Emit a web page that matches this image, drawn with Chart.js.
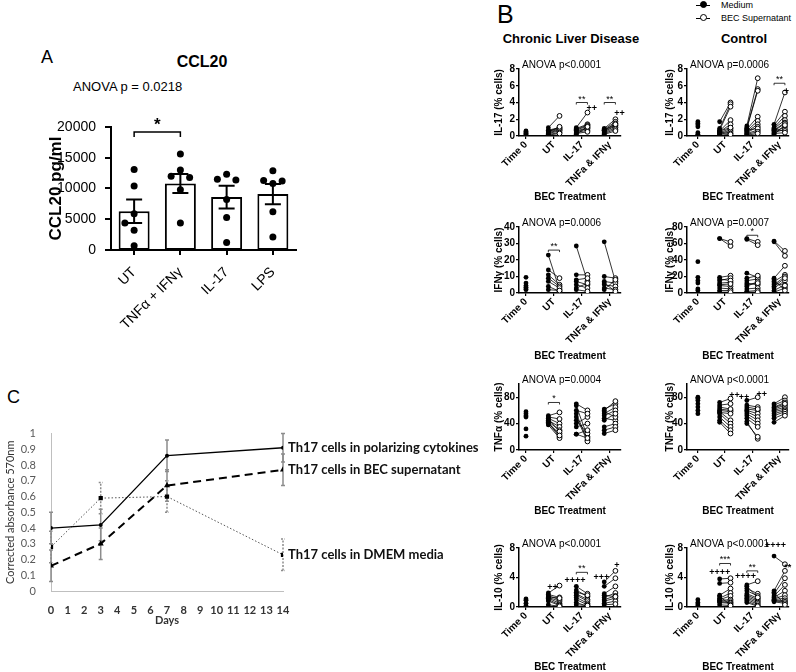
<!DOCTYPE html>
<html>
<head>
<meta charset="utf-8">
<script src="https://cdn.jsdelivr.net/npm/chart.js@4.4.1/dist/chart.umd.min.js"></script>
<style>
  body { margin: 0; background: #fff; width: 796px; height: 672px; position: relative; overflow: hidden;
         font-family: "Liberation Sans", Arial, sans-serif; }
  .t { position: absolute; line-height: 1; white-space: nowrap; color: #000; }
  .c { transform: translateX(-50%); }
  canvas { position: absolute; }
  .sym { position: absolute; height: 1px; background: #000; width: 14px; left: 696px; }
  .dot { position: absolute; width: 5px; height: 5px; border-radius: 50%; border: 1px solid #000; left: 700px; }
  .ax { position: absolute; background: #000; z-index: 5; }
</style>
</head>
<body>
<div class="t" style="left:41px;top:48px;font-size:18px">A</div>
<div class="t c" style="left:202px;top:54px;font-size:16px;font-weight:bold">CCL20</div>
<div class="t" style="left:73px;top:80px;font-size:13px">ANOVA p = 0.0218</div>

<div class="t" style="left:497px;top:2px;font-size:25px">B</div>
<div class="t c" style="left:571px;top:32px;font-size:13px;font-weight:bold">Chronic Liver Disease</div>
<div class="t c" style="left:744px;top:32px;font-size:13px;font-weight:bold">Control</div>
<div class="sym" style="top:5px"></div><div class="dot" style="top:1px;background:#000"></div>
<div class="t" style="left:721px;top:1px;font-size:9px">Medium</div>
<div class="sym" style="top:18px"></div><div class="dot" style="top:14px;background:#fff"></div>
<div class="t" style="left:721px;top:14px;font-size:9px">BEC Supernatant</div>

<div class="t" style="left:7px;top:388px;font-size:18px">C</div>

<canvas id="cA" width="266" height="230" style="left:40px;top:100px"></canvas>
<canvas id="cA2" width="266" height="230" style="left:40px;top:100px"></canvas>
<canvas id="cC" width="510" height="207" style="left:0px;top:420px"></canvas>

<!-- panel A axis frame -->
<div class="ax" style="left:110px;top:126px;width:2px;height:125px"></div>
<div class="ax" style="left:110px;top:249px;width:187px;height:2px"></div>
<div class="ax" style="left:105px;top:126px;width:5px;height:2px"></div>
<div class="ax" style="left:105px;top:157px;width:5px;height:2px"></div>
<div class="ax" style="left:105px;top:187px;width:5px;height:2px"></div>
<div class="ax" style="left:105px;top:218px;width:5px;height:2px"></div>
<div class="ax" style="left:105px;top:249px;width:5px;height:2px"></div>
<div class="ax" style="left:133px;top:251px;width:2px;height:4px"></div>
<div class="ax" style="left:179px;top:251px;width:2px;height:4px"></div>
<div class="ax" style="left:226px;top:251px;width:2px;height:4px"></div>
<div class="ax" style="left:272px;top:251px;width:2px;height:4px"></div>

<script>
// PANEL A - CCL20
const aCats = ['UT', 'TNFα + IFNγ', 'IL-17', 'LPS'];
const aMean = [6300, 10800, 8600, 9100];
const aSem = [1900, 1550, 1850, 1650];
const aUT = [13100, 10400, 5900, 4400, 3200, 700];
const aTNF = [15600, 13000, 12000, 11800, 9800, 4400];
const aIL17 = [12300, 11500, 11400, 8200, 5300, 1200];
const aLPS = [12900, 11300, 11200, 10800, 6200, 2100];
const aTicks = [0, 5000, 10000, 15000, 20000];

// PANEL B - paired data, groups: UT, IL-17, TNFa & IFNy
const bCats = ['Time 0', 'UT', 'IL-17', 'TNFa & IFNγ'];

const cldIL17T0 = [0.6, 0.5, 0.4, 0.3, 0.2];
const cldIL17Med = [[1.0, 0.7, 0.6, 0.5, 0.4, 0.3, 0.2, 0.1, 0.5], [1.0, 0.9, 0.8, 0.7, 0.6, 0.5, 0.4, 0.3, 0.2], [0.9, 0.8, 0.7, 0.6, 0.5, 0.4, 0.3, 0.2, 0.7]];
const cldIL17Bec = [[2.4, 1.0, 0.9, 0.8, 0.7, 0.6, 0.4, 0.3, 1.1], [2.8, 1.4, 1.3, 1.2, 1.0, 0.9, 0.7, 0.5, 1.1], [2.0, 1.7, 1.5, 1.3, 1.2, 1.0, 0.8, 0.6, 1.4]];

const ctlIL17T0 = [1.7, 1.5, 1.3, 1.1, 0.4, 0.2, 0.1];
const ctlIL17Med = [[1.7, 0.9, 0.7, 0.6, 0.5, 0.4, 0.3, 0.2, 0.6, 0.4, 0.1], [1.2, 1.0, 0.9, 0.8, 0.6, 0.5, 0.4, 0.3, 0.7, 0.2, 0.1], [1.4, 1.3, 1.0, 0.9, 0.7, 0.6, 0.5, 0.4, 0.8, 0.3, 0.2]];
const ctlIL17Bec = [[4.0, 3.8, 3.5, 1.9, 1.4, 0.9, 0.7, 0.5, 1.0, 0.3, 0.2], [6.9, 5.6, 5.4, 2.3, 1.8, 1.4, 1.1, 0.7, 0.9, 0.5, 0.3], [5.2, 2.9, 2.4, 1.9, 1.6, 1.5, 1.1, 0.8, 0.6, 0.4, 1.3]];

const cldIFNT0 = [9.5, 6, 4.5, 3.5, 2.5, 2];
const cldIFNMed = [[23, 14, 11, 9, 7, 4, 2], [28.5, 11, 8, 7, 5, 3, 2], [31, 10, 7, 5, 3, 2, 6]];
const cldIFNBec = [[2, 9, 5, 4, 3, 1, 1.5], [7, 11, 9, 5, 3, 6, 1], [7, 9, 6, 4, 2, 8, 1]];

const ctlIFNT0 = [38, 19, 15, 12, 5, 3];
const ctlIFNMed = [[66, 66, 19, 15, 12, 9, 6, 3, 1, 17, 10], [66, 65, 24, 15, 12, 8, 5, 2, 1, 18, 10], [63, 62, 18, 14, 10, 6, 3, 1, 12, 16, 8]];
const ctlIFNBec = [[57, 62, 21, 18, 13, 8, 5, 3, 1, 15, 11], [62, 58, 19, 17, 10, 14, 6, 3, 1, 21, 12], [51, 45, 33, 22, 20, 15, 10, 6, 9, 3, 18]];

const cldTNFT0 = [58, 55, 52, 50, 32, 21];
const cldTNFMed = [[52, 50, 48, 45, 43, 40, 41, 38, 47, 42], [70, 67, 55, 50, 45, 40, 35, 24, 24, 60], [62, 60, 55, 52, 48, 35, 30, 25, 58, 45]];
const cldTNFBec = [[57, 47, 40, 35, 30, 25, 20, 18, 28, 22], [60, 20, 15, 13, 25, 50, 40, 30, 18, 55], [70, 74, 65, 60, 45, 40, 35, 30, 50, 55]];

const ctlTNFT0 = [80, 78, 75, 70, 65, 60, 55];
const ctlTNFMed = [[72, 68, 62, 60, 58, 55, 50, 45, 42, 65, 57], [75, 68, 62, 60, 58, 55, 52, 48, 43, 65, 40], [70, 68, 65, 62, 60, 58, 55, 52, 48, 42, 64]];
const ctlTNFBec = [[78, 70, 60, 58, 45, 40, 35, 30, 25, 62, 55], [80, 65, 60, 55, 50, 45, 40, 35, 17, 62, 20], [80, 75, 72, 68, 65, 62, 60, 58, 55, 52, 70]];

const cldIL10T0 = [1.1, 0.9, 0.5, 0.2];
const cldIL10Med = [[1.9, 1.7, 1.5, 1.3, 1.2, 1.0, 0.8, 0.3, 1.4], [2.8, 2.3, 1.8, 1.6, 1.3, 1.0, 0.6, 0.3, 2.0], [3.4, 2.8, 1.8, 1.3, 1.0, 0.8, 0.5, 0.3, 1.6]];
const cldIL10Bec = [[2.9, 1.3, 1.0, 0.8, 0.5, 0.3, 0.2, 0.1, 1.2], [1.8, 1.4, 1.0, 0.8, 0.5, 0.3, 0.1, 0.2, 1.6], [4.9, 3.9, 2.8, 1.9, 1.5, 1.2, 0.8, 0.4, 1.4]];

const ctlIL10T0 = [1.0, 0.6, 0.4, 0.2];
const ctlIL10Med = [[3.8, 3.2, 1.6, 1.2, 1.0, 0.9, 0.8, 0.7, 0.6, 1.4, 0.3], [3.0, 2.5, 2.2, 1.8, 1.6, 1.4, 1.2, 1.0, 0.8, 0.6, 2.8], [6.9, 2.2, 1.8, 1.5, 1.3, 1.1, 1.0, 0.9, 0.8, 0.7, 2.0]];
const ctlIL10Bec = [[3.9, 3.3, 2.5, 1.9, 1.5, 1.0, 0.8, 0.6, 0.5, 0.3, 0.2], [3.5, 1.8, 1.5, 1.2, 1.0, 0.8, 0.6, 0.4, 0.2, 0.1, 1.3], [5.8, 4.9, 3.9, 3.0, 2.2, 1.6, 1.2, 0.9, 0.7, 0.5, 0.3]];

// PANEL C - proliferation
const cDays = [0, 3, 7, 14];
const cNames = ['Th17 cells in polarizing cytokines', 'Th17 cells in BEC supernatant', 'Th17 cells in DMEM media'];
const cPolar = [0.40, 0.42, 0.86, 0.91];
const cPolarErr = [0.10, 0.10, 0.10, 0.09];
const cBec = [0.16, 0.30, 0.67, 0.77];
const cBecErr = [0.10, 0.10, 0.10, 0.10];
const cDmem = [0.28, 0.59, 0.60, 0.23];
const cDmemErr = [0.10, 0.10, 0.10, 0.10];


Chart.defaults.font.family = '"Liberation Sans", Arial, sans-serif';
Chart.defaults.color = '#000';
Chart.defaults.animation = false;
Chart.defaults.responsive = false;
Chart.defaults.plugins.legend.display = false;
Chart.defaults.plugins.tooltip.enabled = false;

// annotations (brackets, stars, plus signs) per canvas
const notes = {};

const notesPlugin = {
  id: 'notes',
  afterDatasetsDraw(chart) {
    const n = notes[chart.canvas.id];
    if (!n) return;
    const ctx = chart.ctx, xs = chart.scales.x, ys = chart.scales.y, a = chart.chartArea;
    ctx.save();
    ctx.fillStyle = '#000';
    ctx.strokeStyle = '#000';
    if (n.anova) {
      ctx.font = '10px "Liberation Sans", Arial, sans-serif';
      ctx.textAlign = 'left';
      ctx.textBaseline = 'alphabetic';
      ctx.fillText(n.anova, a.left + 3, a.top - 1);
    }
    (n.marks || []).forEach(m => {
      const y = ys.getPixelForValue(m.y);
      ctx.font = m.font;
      ctx.textAlign = 'center';
      if (m.x2 !== undefined) {
        const x1 = xs.getPixelForValue(m.x), x2 = xs.getPixelForValue(m.x2);
        ctx.lineWidth = m.lw;
        ctx.beginPath();
        ctx.moveTo(x1, y + m.tick); ctx.lineTo(x1, y); ctx.lineTo(x2, y); ctx.lineTo(x2, y + m.tick);
        ctx.stroke();
        ctx.textBaseline = 'alphabetic';
        ctx.fillText(m.text, (x1 + x2) / 2, y + m.dy);
      } else {
        ctx.textBaseline = 'middle';
        ctx.fillText(m.text, xs.getPixelForValue(m.x), y);
      }
    });
    ctx.restore();
  }
};

// ---------- A ----------
function swarm(vals, delta, step) {
  const offs = [];
  vals.forEach((v, i) => {
    const used = [];
    for (let j = 0; j < i; j++) if (Math.abs(vals[j] - v) < delta) used.push(offs[j]);
    const cand = [0, -step, step, -2 * step, 2 * step];
    offs.push(cand.find(c => !used.includes(c)));
  });
  return offs;
}

const aDots = [];
[aUT, aTNF, aIL17, aLPS].forEach((grp, g) => {
  const o = swarm(grp, 1800, 0.2);
  grp.forEach((v, k) => aDots.push({ x: g + o[k], y: v }));
});

new Chart(document.getElementById('cA'), {
  type: 'bar',
  data: {
    labels: aCats,
    datasets: [{ data: aMean, backgroundColor: '#fff', borderColor: '#000', borderWidth: 2, borderSkipped: false,
                 barPercentage: 0.67, categoryPercentage: 1 }]
  },
  options: {
    layout: { padding: { top: 27, right: 10, left: 0, bottom: 0 } },
    scales: {
      x: {
        grid: { display: false },
        border: { display: false },
        ticks: { font: { size: 14 }, minRotation: 45, maxRotation: 45, padding: 6 },
        afterFit: s => { s.height = 80; }
      },
      y: {
        min: 0, max: 20000,
        afterBuildTicks: s => { s.ticks = aTicks.map(v => ({ value: v })); },
        grid: { display: false },
        border: { display: false },
        ticks: { font: { size: 14 }, padding: 7, callback: v => String(v) },
        title: { display: true, text: 'CCL20 pg/ml', font: { size: 17, weight: 'bold' }, padding: { top: 6, bottom: 0 } },
        afterFit: s => { s.width = 71; }
      }
    }
  }
});

// SEM whiskers placed through the overlay's scales
const semPlugin = {
  id: 'sem',
  afterDatasetsDraw(chart) {
    const ctx = chart.ctx, xs = chart.scales.x, ys = chart.scales.y;
    ctx.save();
    ctx.strokeStyle = '#000';
    ctx.lineWidth = 2;
    aMean.forEach((m, i) => {
      const x = xs.getPixelForValue(i);
      const y1 = ys.getPixelForValue(m - aSem[i]), y2 = ys.getPixelForValue(m + aSem[i]);
      ctx.beginPath();
      ctx.moveTo(x, y1); ctx.lineTo(x, y2);
      ctx.moveTo(x - 8, y1); ctx.lineTo(x + 8, y1);
      ctx.moveTo(x - 8, y2); ctx.lineTo(x + 8, y2);
      ctx.stroke();
    });
    ctx.restore();
  }
};

notes.cA2 = {
  marks: [{ x: 0, x2: 1, y: 19200, tick: 5, lw: 1.5, dy: -2, text: '*', font: 'bold 17px "Liberation Sans", Arial, sans-serif' }]
};

// points layer, same plot area as the bar chart underneath
new Chart(document.getElementById('cA2'), {
  type: 'scatter',
  data: { datasets: [{ data: aDots, pointRadius: 3.5, pointBackgroundColor: '#000', pointBorderWidth: 0, clip: false }] },
  options: {
    layout: { padding: { top: 27, right: 10, left: 71, bottom: 80 } },
    scales: {
      x: { type: 'linear', display: false, min: -0.5, max: 3.5 },
      y: { type: 'linear', display: false, min: 0, max: 20000 }
    }
  },
  plugins: [semPlugin, notesPlugin]
});

// ---------- B ----------
const rows = [
  { top: 69, bottom: 136, title: 197 },
  { top: 227, bottom: 293, title: 356 },
  { top: 384, bottom: 450, title: 511 },
  { top: 548, bottom: 607, title: 667 }
];
const cols = [
  { axis: 519, right: 622, tx: 499, min: -0.25, max: 3.4 },
  { axis: 687, right: 790, tx: 670, min: -0.4, max: 3.35 }
];

const starFont = '9px "Liberation Sans", Arial, sans-serif';
const plusFont = 'bold 9px "Liberation Sans", Arial, sans-serif';
const br = (x, x2, y, text) => ({ x, x2, y, text, tick: 2, lw: 0.8, dy: -1, font: starFont });
const pl = (x, y, text) => ({ x, y, text, font: plusFont });

function pairChart(id, r, c, t0, med, bec, yMax, yStep, yTitle, anova, marks) {
  const row = rows[r], col = cols[c];
  const left = col.tx - 7, top = row.top - 14;
  const yw = col.axis - left;
  const xh = row.title - row.bottom + 6;
  const cv = document.createElement('canvas');
  cv.id = id;
  cv.width = col.right + 4 - left;
  cv.height = 14 + (row.bottom - row.top) + xh;
  cv.style.left = left + 'px';
  cv.style.top = top + 'px';
  document.body.appendChild(cv);
  notes[id] = { anova, marks };

  const medPts = t0.map(v => ({ x: 0, y: v }));
  const becPts = [], links = [];
  med.forEach((grp, g) => grp.forEach((v, k) => {
    const xm = g + 1 - 0.2, xb = g + 1 + 0.2;
    medPts.push({ x: xm, y: v });
    becPts.push({ x: xb, y: bec[g][k] });
    links.push({ x: xm, y: v }, { x: xb, y: bec[g][k] }, { x: xb, y: null });
  }));

  new Chart(cv, {
    type: 'scatter',
    data: {
      datasets: [
        { type: 'scatter', data: medPts, pointRadius: 2.4, pointBackgroundColor: '#000', pointBorderWidth: 0 },
        { type: 'scatter', data: becPts, pointRadius: 2.4, pointBackgroundColor: '#fff', pointBorderColor: '#000', pointBorderWidth: 1 },
        { type: 'line', data: links, borderColor: '#000', borderWidth: 0.8, pointRadius: 0, spanGaps: false }
      ]
    },
    options: {
      layout: { padding: { top: 14, right: 4, left: 0, bottom: 0 } },
      scales: {
        x: {
          type: 'linear', min: col.min, max: col.max,
          afterBuildTicks: s => { s.ticks = [0, 1, 2, 3].map(v => ({ value: v })); },
          grid: { drawOnChartArea: false, tickLength: 3, color: '#000', lineWidth: 1.2 },
          border: { color: '#000', width: 1.5 },
          ticks: { callback: v => bCats[v], font: { size: 10, weight: 'bold' }, minRotation: 45, maxRotation: 45, padding: 0, autoSkip: false },
          title: { display: true, text: 'BEC Treatment', font: { size: 10, weight: 'bold' }, padding: 0 },
          afterFit: s => { s.height = xh; }
        },
        y: {
          min: 0, max: yMax,
          ticks: { stepSize: yStep, font: { size: 10, weight: 'bold' }, padding: 1 },
          grid: { drawOnChartArea: false, tickLength: 3, color: '#000', lineWidth: 1.2 },
          border: { color: '#000', width: 1.5 },
          title: { display: true, text: yTitle, font: { size: 10, weight: 'bold' }, padding: { top: 1, bottom: 0 } },
          afterFit: s => { s.width = yw; }
        }
      }
    },
    plugins: [notesPlugin]
  });
}

pairChart('b11', 0, 0, cldIL17T0, cldIL17Med, cldIL17Bec, 8, 2, 'IL-17 (% cells)', 'ANOVA p<0.0001',
  [br(1.8, 2.2, 4.0, '**'), pl(2.35, 3.3, '++'), br(2.8, 3.2, 4.0, '**'), pl(3.35, 2.7, '++')]);
pairChart('b12', 0, 1, ctlIL17T0, ctlIL17Med, ctlIL17Bec, 8, 2, 'IL-17 (% cells)', 'ANOVA p=0.0006',
  [br(2.8, 3.2, 6.3, '**'), pl(3.25, 5.3, '+')]);
pairChart('b21', 1, 0, cldIFNT0, cldIFNMed, cldIFNBec, 40, 10, 'IFNγ (% cells)', 'ANOVA p=0.0006',
  [br(0.8, 1.2, 26, '**')]);
pairChart('b22', 1, 1, ctlIFNT0, ctlIFNMed, ctlIFNBec, 80, 20, 'IFNγ (% cells)', 'ANOVA p=0.0007',
  [br(1.8, 2.2, 70, '*')]);
pairChart('b31', 2, 0, cldTNFT0, cldTNFMed, cldTNFBec, 100, 20, 'TNFα (% cells)', 'ANOVA p=0.0004',
  [br(0.8, 1.2, 72, '*')]);
pairChart('b32', 2, 1, ctlTNFT0, ctlTNFMed, ctlTNFBec, 100, 20, 'TNFα (% cells)', 'ANOVA p<0.0001',
  [pl(1.35, 82, '++'), pl(1.7, 80, '++'), pl(2.35, 84, '++')]);
pairChart('b41', 3, 0, cldIL10T0, cldIL10Med, cldIL10Bec, 8, 2, 'IL-10 (% cells)', 'ANOVA p<0.0001',
  [pl(0.95, 2.6, '++'), br(1.8, 2.2, 4.7, '**'), pl(1.75, 3.6, '++++'), pl(2.7, 4.0, '+++'), pl(3.25, 5.6, '+')]);
pairChart('b42', 3, 1, ctlIL10T0, ctlIL10Med, ctlIL10Bec, 8, 2, 'IL-10 (% cells)', 'ANOVA p<0.0001',
  [pl(0.8, 4.7, '++++'), br(0.8, 1.2, 5.9, '***'), pl(1.75, 4.1, '++++'), br(1.8, 2.2, 4.9, '**'), pl(2.85, 8.3, '++++'), pl(3.3, 5.3, '**')]);

// ---------- C ----------
const errPlugin = {
  id: 'err',
  beforeDatasetsDraw(chart) {
    const ctx = chart.ctx, xs = chart.scales.x, ys = chart.scales.y;
    ctx.save();
    ctx.strokeStyle = '#8c8c8c';
    ctx.lineWidth = 1.5;
    chart.data.datasets.forEach(ds => {
      ctx.setLineDash(ds.errDash);
      cDays.forEach((d, i) => {
        const v = ds.data[i].y, e = ds.err[i];
        const x = xs.getPixelForValue(d), y1 = ys.getPixelForValue(v - e), y2 = ys.getPixelForValue(v + e);
        ctx.beginPath();
        ctx.moveTo(x, y1); ctx.lineTo(x, y2);
        ctx.moveTo(x - 2, y1); ctx.lineTo(x + 2, y1);
        ctx.moveTo(x - 2, y2); ctx.lineTo(x + 2, y2);
        ctx.stroke();
      });
    });
    ctx.restore();
  },
  afterDatasetsDraw(chart) {
    const ctx = chart.ctx, xs = chart.scales.x, ys = chart.scales.y;
    ctx.save();
    ctx.fillStyle = '#111';
    ctx.font = 'bold 13px Lato, "Open Sans", sans-serif';
    ctx.textAlign = 'left';
    ctx.textBaseline = 'middle';
    chart.data.datasets.forEach(ds => {
      const last = ds.data[ds.data.length - 1];
      ctx.fillText(ds.label, xs.getPixelForValue(last.x) + 5, ys.getPixelForValue(last.y));
    });
    ctx.restore();
  }
};

const toXY = vals => cDays.map((d, i) => ({ x: d, y: vals[i] }));

new Chart(document.getElementById('cC'), {
  type: 'line',
  data: {
    datasets: [
      { label: cNames[0], data: toXY(cPolar), err: cPolarErr, errDash: [],
        borderColor: '#000', borderWidth: 1.3, pointStyle: 'circle', pointRadius: 2, pointBackgroundColor: '#000', pointBorderWidth: 0 },
      { label: cNames[1], data: toXY(cBec), err: cBecErr, errDash: [],
        borderColor: '#000', borderWidth: 2, borderDash: [8, 5], pointStyle: 'triangle', pointRadius: 3.5, pointBackgroundColor: '#000', pointBorderWidth: 0 },
      { label: cNames[2], data: toXY(cDmem), err: cDmemErr, errDash: [2, 1.5],
        borderColor: '#555', borderWidth: 1, borderDash: [1.5, 2], pointStyle: 'rect', pointRadius: 3, pointBackgroundColor: '#000', pointBorderWidth: 0 }
    ]
  },
  options: {
    layout: { padding: { top: 12, right: 227, left: 0, bottom: 0 } },
    scales: {
      x: {
        type: 'linear', min: 0, max: 14,
        grid: { display: false },
        border: { color: '#bfbfbf', width: 1 },
        ticks: { stepSize: 1, autoSkip: false, color: '#333', font: { family: 'Lato, sans-serif', size: 11, weight: 'bold' }, padding: 5, maxRotation: 0 },
        title: { display: true, text: 'Days', color: '#333', font: { family: 'Lato, sans-serif', size: 11, weight: 'bold' }, padding: 0 },
        afterFit: s => { s.height = 36; }
      },
      y: {
        min: 0, max: 1,
        grid: { display: false },
        border: { color: '#bfbfbf', width: 1 },
        ticks: { stepSize: 0.1, autoSkip: false, color: '#595959', font: { family: 'Lato, sans-serif', size: 11 }, padding: 7,
                 callback: v => String(+v.toFixed(1)) },
        title: { display: true, text: 'Corrected absorbance 570nm', color: '#333', font: { family: 'Lato, sans-serif', size: 11 }, padding: { top: 4, bottom: 0 } },
        afterFit: s => { s.width = 51; }
      }
    }
  },
  plugins: [errPlugin]
});
</script>
</body>
</html>
